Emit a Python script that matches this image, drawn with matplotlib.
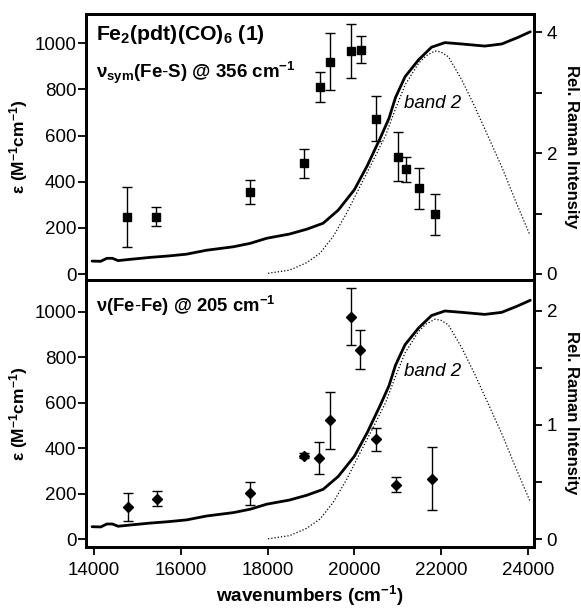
import matplotlib
matplotlib.use("Agg")
import matplotlib.pyplot as plt
from matplotlib.ticker import FixedLocator, NullFormatter

plt.rcParams['font.family'] = ['Liberation Sans', 'DejaVu Sans']
plt.rcParams['mathtext.fontset'] = 'custom'
plt.rcParams['mathtext.rm'] = 'Liberation Sans'
plt.rcParams['mathtext.bf'] = 'Liberation Sans:bold'
plt.rcParams['mathtext.it'] = 'Liberation Sans:italic'

# Absorption spectrum (epsilon, M^-1 cm^-1)
wn_abs = [13950, 14150, 14290, 14420, 14550, 14800, 15290, 15700, 16130, 16590,
          17210, 17600, 17980, 18500, 18900, 19280, 19630, 20000, 20300, 20600,
          20800, 20950, 21170, 21480, 21780, 22090, 22480, 23010, 23400, 23780, 24060]
eps_abs = [56, 55, 68, 68, 58, 63, 72, 78, 86, 103,
           118, 133, 155, 173, 194, 220, 277, 365, 470, 590,
           675, 765, 855, 928, 983, 1003, 997, 988, 997, 1026, 1050]

# Band 2 (dotted)
wn_band2 = [18010, 18510, 18900, 19210, 19510, 19820, 20130, 20440, 20720, 20940,
            21170, 21480, 21650, 21860, 22000, 22170, 22480, 22780, 23090, 23400,
            23710, 24050]
eps_band2 = [3, 17, 49, 90, 162, 263, 379, 494, 600, 711,
             819, 913, 945, 967, 962, 942, 841, 725, 595, 465,
             321, 169]

# Raman excitation profile: nu_sym(Fe-S) @ 356 cm-1
wn_fes = [14750, 15420, 17590, 18830, 19210, 19450, 19930, 20150, 20510, 21010, 21190, 21500, 21870]
int_fes = [0.94, 0.95, 1.35, 1.83, 3.09, 3.51, 3.69, 3.71, 2.57, 1.94, 1.73, 1.42, 0.99]
err_fes = [0.50, 0.15, 0.20, 0.24, 0.25, 0.47, 0.45, 0.22, 0.37, 0.40, 0.21, 0.34, 0.34]

# Raman excitation profile: nu(Fe-Fe) @ 205 cm-1
wn_fefe = [14770, 15450, 17590, 18830, 19190, 19430, 19920, 20130, 20490, 20950, 21800]
int_fefe = [0.28, 0.355, 0.40, 0.73, 0.71, 1.04, 1.95, 1.66, 0.875, 0.475, 0.53]
err_fefe = [0.125, 0.065, 0.10, 0.02, 0.14, 0.25, 0.25, 0.17, 0.10, 0.065, 0.28]

W, H = 581, 610
fig = plt.figure(figsize=(W / 100, H / 100), dpi=100)

L, R = 86 / W, 534 / W
ax1 = fig.add_axes([L, 1 - 280 / H, R - L, 266 / H])
ax2 = fig.add_axes([L, 1 - 547 / H, R - L, 267 / H], sharex=ax1)

panels = [
    (ax1, (-26, 1127), (-0.1, 4.30), wn_fes, int_fes, err_fes, 's', 5.5,
     [0, 2, 4], [1, 3], 147),
    (ax2, (-33, 1139), (-0.07, 2.27), wn_fefe, int_fefe, err_fefe, 'D', 5.5,
     [0, 1, 2], [0.5, 1.5], 413),
]

def ftext(px, py, s, **kw):
    fig.text(px / W, 1 - py / H, s, **kw)

for ax, ylim, ylim2, xw, yi, ye, mk, ms, maj, mnr, ylab in panels:
    ax.plot(wn_abs, eps_abs, color='black', lw=2.0, solid_capstyle='round')
    ax.plot(wn_band2, eps_band2, color='black', lw=0.9, linestyle=(0, (1, 1.6)))
    ax.set_ylim(*ylim)
    ax.set_xlim(13810, 24145)
    ax.set_yticks([0, 200, 400, 600, 800, 1000])
    for s in ax.spines.values():
        s.set_linewidth(2.0)
    ax.tick_params(axis='y', direction='out', length=6, width=1.3, labelsize=13.5, pad=1)
    ax.tick_params(axis='x', direction='out', length=6, width=1.3, labelsize=13.5, pad=5)
    ax.set_ylabel(r'ε $\mathbf{(M^{-1}cm^{-1})}$', fontsize=12.5, fontweight='bold')
    ax.yaxis.set_label_coords(-0.125, 0.5)

    axr = ax.twinx()
    axr.set_ylim(*ylim2)
    axr.errorbar(xw, yi, yerr=ye, fmt=mk, color='black', ms=ms, mec='black',
                 mfc='black', elinewidth=1.0, capsize=3.5, capthick=1.0)
    axr.yaxis.set_major_locator(FixedLocator(maj))
    axr.yaxis.set_minor_locator(FixedLocator(mnr))
    axr.yaxis.set_minor_formatter(NullFormatter())
    axr.tick_params(axis='y', which='both', direction='out', length=6, width=1.3,
                    labelsize=13.5, pad=3)
    for s in axr.spines.values():
        s.set_linewidth(2.0)
    ftext(572, ylab, 'Rel. Raman Intensity', fontsize=12, fontweight='bold',
          rotation=-90, ha='center', va='center')

ax1.tick_params(axis='x', which='both', bottom=False, labelbottom=False)
ax2.set_xticks([14000, 16000, 18000, 20000, 22000, 24000])
ftext(310, 596, r'$\mathbf{wavenumbers\ (cm^{-1})}$', fontsize=13.6,
      ha='center', va='center')

ftext(96, 35, r'$\mathbf{Fe_2(pdt)(CO)_6\ (1)}$', fontsize=15.3, va='center', ha='left')
ftext(96, 73, r'ν$_{\mathbf{sym}}$$\mathbf{(Fe\text{-}S)\ @\ 356\ cm^{-1}}$', fontsize=13.5,
      fontweight='bold', va='center', ha='left')
ftext(96, 306, r'ν$\mathbf{(Fe\text{-}Fe)\ @\ 205\ cm^{-1}}$', fontsize=13.3,
      fontweight='bold', va='center', ha='left')
ftext(433, 103, 'band 2', fontsize=13.5, style='italic', va='center', ha='center')
ftext(433, 372, 'band 2', fontsize=13.5, style='italic', va='center', ha='center')

fig.savefig('out.png', dpi=100)
